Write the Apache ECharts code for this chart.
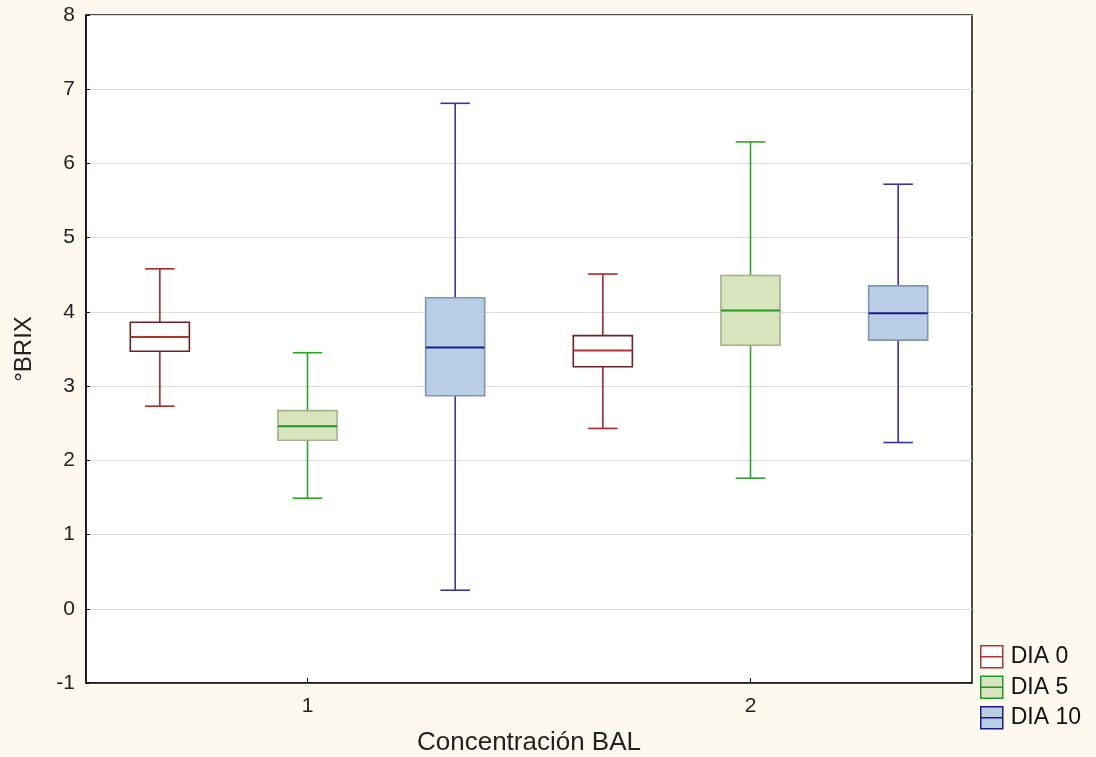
<!DOCTYPE html>
<html>
<head>
<meta charset="utf-8">
<script src="https://cdn.jsdelivr.net/npm/echarts@6/dist/echarts.min.js"></script>
<style>
html,body{margin:0;padding:0;background:#fdf9ef;}
#chart{width:1096px;height:757px;}
</style>
</head>
<body>
<div id="chart"></div>
<script>
// Data: [min, Q1, median, Q3, max] per concentration group
const groups = ['1', '2'];
const seriesNames = ['DIA 0', 'DIA 5', 'DIA 10'];
const dia0 = [[2.73, 3.47, 3.66, 3.86, 4.58], [2.43, 3.26, 3.48, 3.68, 4.51]];
const dia5 = [[1.49, 2.27, 2.46, 2.67, 3.45], [1.76, 3.55, 4.02, 4.49, 6.29]];
const dia10 = [[0.25, 2.87, 3.52, 4.19, 6.81], [2.24, 3.62, 3.98, 4.35, 5.72]];
const yTicks = [-1, 0, 1, 2, 3, 4, 5, 6, 7, 8];

const styles = [
  {fill: '#ffffff', border: '#6a2323', median: '#b03434', whisker: '#a82a2a'},
  {fill: '#d7e4bd', border: '#a4b088', median: '#1f9a1f', whisker: '#2aa52a'},
  {fill: '#b9cde5', border: '#8196b3', median: '#1c1c8c', whisker: '#3434a8'}
];
const allData = [dia0, dia5, dia10];

// hidden slot axis: group x series
const slots = [];
groups.forEach(g => seriesNames.forEach(s => slots.push(g + ' ' + s)));

function makeRender(st) {
  return function (params, api) {
    const x = api.value(0);
    const pMin = api.coord([x, api.value(1)]);
    const pQ1 = api.coord([x, api.value(2)]);
    const pMed = api.coord([x, api.value(3)]);
    const pQ3 = api.coord([x, api.value(4)]);
    const pMax = api.coord([x, api.value(5)]);
    const cx = pMed[0];
    const bw = api.size([1, 0])[0] * 0.4;
    const cw = bw / 2;
    const lw = {lineWidth: 1.6};
    return {
      type: 'group',
      children: [
        {type: 'line', shape: {x1: cx, y1: pQ3[1], x2: cx, y2: pMax[1]}, style: Object.assign({stroke: st.whisker}, lw)},
        {type: 'line', shape: {x1: cx, y1: pQ1[1], x2: cx, y2: pMin[1]}, style: Object.assign({stroke: st.whisker}, lw)},
        {type: 'line', shape: {x1: cx - cw / 2, y1: pMax[1], x2: cx + cw / 2, y2: pMax[1]}, style: Object.assign({stroke: st.whisker}, lw)},
        {type: 'line', shape: {x1: cx - cw / 2, y1: pMin[1], x2: cx + cw / 2, y2: pMin[1]}, style: Object.assign({stroke: st.whisker}, lw)},
        {type: 'rect', shape: {x: cx - bw / 2, y: pQ3[1], width: bw, height: pQ1[1] - pQ3[1]}, style: {fill: st.fill, stroke: st.border, lineWidth: 1.6}},
        {type: 'line', shape: {x1: cx - bw / 2, y1: pMed[1], x2: cx + bw / 2, y2: pMed[1]}, style: {stroke: st.median, lineWidth: 2}}
      ]
    };
  };
}

const series = seriesNames.map((name, si) => ({
  name: name,
  type: 'custom',
  xAxisIndex: 1,
  yAxisIndex: 0,
  itemStyle: {color: styles[si].median},
  renderItem: makeRender(styles[si]),
  encode: {x: 0, y: [1, 2, 3, 4, 5]},
  data: allData[si].map((v, gi) => [gi * seriesNames.length + si].concat(v))
}));

const iconPath = 'path://M0,0 L20,0 L20,20 L0,20 Z M0,10 L20,10';
const FONT = 'Liberation Sans, Arial, sans-serif';

const chart = echarts.init(document.getElementById('chart'));
chart.setOption({
  backgroundColor: '#fdf9ef',
  animation: false,
  textStyle: {fontFamily: FONT},
  grid: {left: 86, top: 15, right: 124, bottom: 74, outerBoundsMode: 'none', containLabel: false, show: true, backgroundColor: '#ffffff', borderColor: '#111', borderWidth: 1.5},
  legend: {
    orient: 'vertical',
    left: 975,
    top: 640,
    itemWidth: 22,
    itemHeight: 22,
    itemGap: 7,
    textStyle: {fontSize: 23, color: '#111', fontFamily: FONT, padding: [0, 0, 0, 3]},
    data: seriesNames.map((n, i) => ({
      name: n,
      icon: iconPath,
      itemStyle: {color: styles[i].fill, borderColor: styles[i].median, borderWidth: 1.5}
    }))
  },
  xAxis: [
    {
      type: 'category',
      data: groups,
      boundaryGap: true,
      name: 'Concentración BAL',
      nameLocation: 'middle',
      nameGap: 47,
      nameTextStyle: {fontSize: 26, color: '#222'},
      axisLine: {show: true, onZero: false, lineStyle: {color: '#111', width: 1.5}},
      axisTick: {show: true, inside: true, alignWithLabel: true, length: 5, lineStyle: {color: '#111'}},
      axisLabel: {fontSize: 21, color: '#222', margin: 13},
      splitLine: {show: false}
    },
    {
      type: 'category',
      data: slots,
      boundaryGap: true,
      show: false
    }
  ],
  yAxis: {
    type: 'value',
    min: yTicks[0],
    max: yTicks[yTicks.length - 1],
    interval: 1,
    name: '°BRIX',
    nameLocation: 'middle',
    nameGap: 50,
    nameTextStyle: {fontSize: 24, color: '#222'},
    axisLine: {show: true, onZero: false, lineStyle: {color: '#111', width: 1.5}},
    axisTick: {show: true, inside: true, length: 4, lineStyle: {color: '#111'}},
    axisLabel: {fontSize: 21, color: '#222', margin: 11},
    splitLine: {show: true, lineStyle: {color: '#dcdcdc', width: 1.2}}
  },
  series: series
});
</script>
</body>
</html>
